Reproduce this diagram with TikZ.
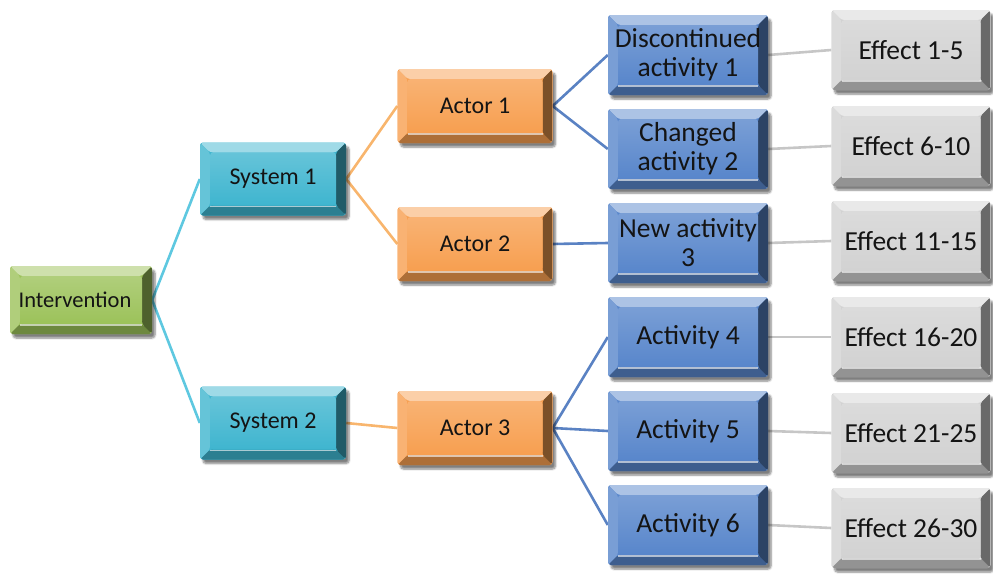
\documentclass[tikz,border=0pt]{standalone}
\usepackage{fontspec}
\setmainfont{Carlito}
\usetikzlibrary{calc,shadows.blur,backgrounds}

\definecolor{cGreen}{HTML}{9CC25A}
\definecolor{cAqua}{HTML}{3FB5CF}
\definecolor{cOrange}{HTML}{F79F50}
\definecolor{cBlue}{HTML}{5886CB}
\definecolor{cGray}{HTML}{D2D2D2}
\definecolor{lAqua}{HTML}{5EC8E0}
\definecolor{lOrange}{HTML}{F8B56D}
\definecolor{lBlue}{HTML}{5A82C3}
\definecolor{lGray}{HTML}{C6C6C6}

\tikzset{
  bevel/.style={
    rectangle, rounded corners=3pt, fill=#1, inner sep=0pt, align=center,
    text=black!92,
    blur shadow={shadow xshift=3pt, shadow yshift=-4pt, shadow blur steps=6, shadow opacity=50},
    path picture={
      \coordinate (bSW) at (path picture bounding box.south west);
      \coordinate (bNE) at (path picture bounding box.north east);
      \coordinate (bNW) at (bSW |- bNE);
      \coordinate (bSE) at (bNE |- bSW);
      \coordinate (iSW) at ($(bSW)+(10pt,10pt)$);
      \coordinate (iNE) at ($(bNE)+(-10pt,-10pt)$);
      \coordinate (iNW) at (iSW |- iNE);
      \coordinate (iSE) at (iNE |- iSW);
      \fill[#1!50!white] (bNW) -- (bNE) -- (iNE) -- (iNW) -- cycle;
      \fill[#1!80!white] (bNW) -- (iNW) -- (iSW) -- (bSW) -- cycle;
      \fill[#1!70!black] (bSW) -- (iSW) -- (iSE) -- (bSE) -- cycle;
      \fill[#1!50!black] (bNE) -- (bSE) -- (iSE) -- (iNE) -- cycle;
      \shade[top color=#1!80!white, bottom color=#1] (iSW) rectangle (iNE);
      \draw[white, opacity=.6, line width=1.4pt] ($(iSW)+(0,-1pt)$) -- ($(iSE)+(0,-1pt)$);
    }
  },
  root/.style={bevel=cGreen, minimum width=142pt, minimum height=68pt, font=\fontsize{22.5}{26}\selectfont},
  sysbox/.style={bevel=cAqua, minimum width=146pt, minimum height=73pt, font=\fontsize{24}{27}\selectfont},
  actbox/.style={bevel=cOrange, minimum width=155pt, minimum height=74pt, font=\fontsize{24}{27}\selectfont},
  taskbox/.style={bevel=cBlue, minimum width=160pt, minimum height=80pt, font=\fontsize{27.5}{29}\selectfont},
  effbox/.style={bevel=cGray, minimum width=159pt, minimum height=80pt, font=\fontsize{27.5}{29}\selectfont},
  link/.style={line width=2.6pt},
}

\begin{document}
\begin{tikzpicture}[x=1pt,y=-1pt]
  \useasboundingbox (0,0) rectangle (993,573);

  % boxes
  \node[root]    (int)  at (81,300)  {\hspace*{-12pt}Intervention};
  \node[sysbox]  (sys1) at (273,179) {System 1};
  \node[sysbox]  (sys2) at (273,423) {System 2};
  \node[actbox]  (act1) at (475,106) {Actor 1};
  \node[actbox]  (act2) at (475,244) {Actor 2};
  \node[actbox]  (act3) at (475,428) {Actor 3};
  \node[taskbox] (t1) at (688,55)  {Discontinued\\activity 1};
  \node[taskbox] (t2) at (688,149) {Changed\\activity 2};
  \node[taskbox] (t3) at (688,243) {New activity\\3};
  \node[taskbox] (t4) at (688,337) {Activity 4};
  \node[taskbox] (t5) at (688,431) {Activity 5};
  \node[taskbox] (t6) at (688,525) {Activity 6};
  \node[effbox]  (e1) at (911,50)  {Effect 1-5};
  \node[effbox]  (e2) at (911,146) {Effect 6-10};
  \node[effbox]  (e3) at (911,241) {Effect 11-15};
  \node[effbox]  (e4) at (911,337) {Effect 16-20};
  \node[effbox]  (e5) at (911,433) {Effect 21-25};
  \node[effbox]  (e6) at (911,528) {Effect 26-30};

  % tree connectors, kept behind the boxes
  \begin{scope}[on background layer]
    \draw[link, lAqua] (sys1.west) -- (int.east) -- (sys2.west);
    \draw[link, lOrange] (act1.west) -- (sys1.east) -- (act2.west);
    \draw[link, lOrange] (sys2.east) -- (act3.west);
    \draw[link, lBlue] (t1.west) -- (act1.east) -- (t2.west);
    \draw[link, lBlue] (act2.east) -- (t3.west);
    \draw[link, lBlue] (t4.west) -- (act3.east) -- (t6.west);
    \draw[link, lBlue] (act3.east) -- (t5.west);
    \foreach \i in {1,...,6} \draw[link, lGray] (t\i.east) -- (e\i.west);
  \end{scope}
\end{tikzpicture}
\end{document}
